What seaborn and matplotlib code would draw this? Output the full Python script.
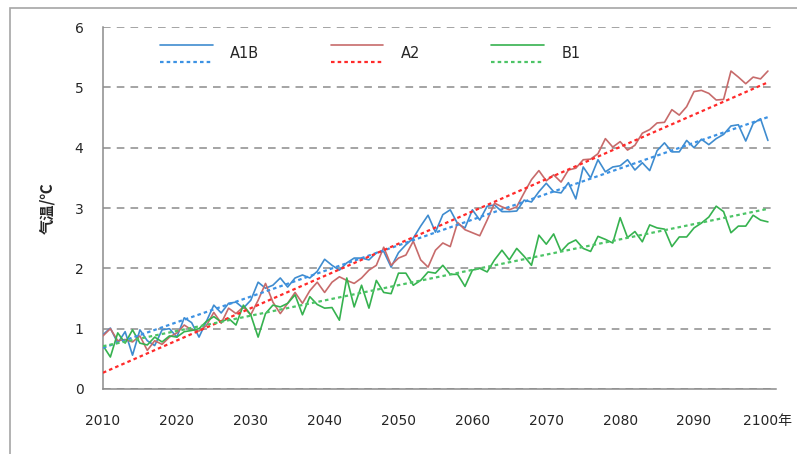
# A1B / A2 / B1 temperature scenarios with linear trend lines

import pandas as pd
import seaborn as sns
import matplotlib.pyplot as plt
from matplotlib.lines import Line2D
from matplotlib.legend_handler import HandlerBase
from matplotlib.patches import Rectangle

# data
years = list(range(2010, 2101))
a1b = [0.90, 1.01, 0.76, 0.95, 0.56, 0.98, 0.80, 0.72, 0.98, 1.00,
       0.86, 1.18, 1.10, 0.86, 1.12, 1.39, 1.26, 1.42, 1.44, 1.34,
       1.47, 1.77, 1.67, 1.72, 1.84, 1.69, 1.84, 1.89, 1.84, 1.95,
       2.15, 2.05, 1.97, 2.09, 2.17, 2.17, 2.14, 2.26, 2.28, 2.02,
       2.26, 2.39, 2.50, 2.70, 2.88, 2.60, 2.89, 2.97, 2.74, 2.67,
       2.97, 2.80, 3.03, 3.05, 2.94, 2.94, 2.95, 3.13, 3.10, 3.27,
       3.41, 3.27, 3.25, 3.42, 3.15, 3.68, 3.50, 3.80, 3.60, 3.68,
       3.70, 3.80, 3.63, 3.75, 3.62, 3.95, 4.08, 3.93, 3.93, 4.12,
       4.00, 4.14, 4.05, 4.15, 4.22, 4.36, 4.38, 4.11, 4.40, 4.48,
       4.12]
a2 = [0.88, 1.00, 0.80, 0.82, 0.78, 0.88, 0.64, 0.80, 0.74, 0.86,
      0.93, 1.06, 0.98, 0.96, 1.05, 1.27, 1.09, 1.34, 1.25, 1.36,
      1.23, 1.47, 1.75, 1.44, 1.25, 1.42, 1.60, 1.42, 1.63, 1.77,
      1.60, 1.77, 1.86, 1.80, 1.75, 1.84, 1.97, 2.05, 2.35, 2.05,
      2.17, 2.22, 2.45, 2.14, 2.02, 2.30, 2.42, 2.36, 2.76, 2.64,
      2.59, 2.54, 2.80, 3.08, 3.02, 2.97, 3.02, 3.25, 3.47, 3.62,
      3.45, 3.55, 3.43, 3.63, 3.66, 3.80, 3.81, 3.90, 4.15, 4.01,
      4.10, 3.96, 4.04, 4.24, 4.30, 4.41, 4.42, 4.63, 4.54, 4.68,
      4.93, 4.95, 4.90, 4.79, 4.80, 5.27, 5.17, 5.06, 5.17, 5.14,
      5.27]
b1 = [0.72, 0.53, 0.93, 0.76, 0.98, 0.76, 0.73, 0.86, 0.78, 0.88,
      0.86, 0.95, 0.97, 1.00, 1.12, 1.20, 1.11, 1.17, 1.06, 1.39,
      1.23, 0.86, 1.25, 1.39, 1.36, 1.42, 1.56, 1.23, 1.53, 1.40,
      1.34, 1.35, 1.14, 1.84, 1.36, 1.72, 1.34, 1.80, 1.60, 1.58,
      1.92, 1.92, 1.72, 1.80, 1.94, 1.92, 2.05, 1.90, 1.90, 1.70,
      1.97, 2.00, 1.94, 2.14, 2.30, 2.14, 2.33, 2.20, 2.05, 2.55,
      2.40, 2.57, 2.28, 2.41, 2.47, 2.33, 2.28, 2.53, 2.48, 2.42,
      2.84, 2.51, 2.61, 2.44, 2.72, 2.67, 2.65, 2.36, 2.52, 2.52,
      2.67, 2.75, 2.85, 3.03, 2.94, 2.59, 2.70, 2.70, 2.88, 2.80,
      2.77]
scenarios = ["A1B", "A2", "B1"]
xticks = list(range(2010, 2101, 10))
xtick_labels = [str(y) for y in xticks[:-1]] + ["2100年"]
yticks = list(range(0, 7))

line_colors = ["#3f8ccf", "#c76b6b", "#36b24f"]
trend_colors = ["#3d92e3", "#ff2a2a", "#4cc466"]
dotted = (0, (1.6, 1.4))

df = pd.DataFrame({
    "year": years * 3,
    "temp": a1b + a2 + b1,
    "scenario": [s for s in scenarios for _ in years],
})

sns.set_style("white")
plt.rcParams["font.family"] = ["DejaVu Sans", "Noto Sans CJK SC"]


class StackedHandler(HandlerBase):
    # solid line on top, dotted trend line underneath
    def create_artists(self, legend, orig_handle, xdescent, ydescent,
                       width, height, fontsize, trans):
        arts = []
        for h, frac in zip(orig_handle, (0.88, 0.12)):
            y = frac * height - ydescent
            ln = Line2D([-xdescent, width - xdescent], [y, y])
            ln.update_from(h)
            ln.set_transform(trans)
            arts.append(ln)
        return arts


fig = plt.figure(figsize=(7.97, 4.54), dpi=100)
ax = fig.add_axes([0.1292, 0.1432, 0.8445, 0.7973])

sns.lineplot(data=df, x="year", y="temp", hue="scenario",
             palette=dict(zip(scenarios, line_colors)), linewidth=1.2,
             legend=False, ax=ax, zorder=3)

for s, c in zip(scenarios, trend_colors):
    sub = df[df["scenario"] == s]
    sns.regplot(data=sub, x="year", y="temp", scatter=False, ci=None, ax=ax,
                line_kws=dict(color=c, linewidth=1.6, linestyle=dotted, zorder=4))

ax.set_xlim(2010, 2101.1)
ax.set_ylim(0, 6)
ax.set_xticks(xticks)
ax.set_xticklabels(xtick_labels)
ax.set_xticks(list(range(2015, 2100, 10)), minor=True)
ax.set_yticks(yticks)
ax.tick_params(axis="x", which="both", direction="out", length=6, width=1,
               color="#8c8c8c", pad=12, labelsize=10)
ax.tick_params(axis="y", direction="out", length=6, width=1,
               color="#8c8c8c", pad=8, labelsize=10)
ax.yaxis.grid(True, linestyle=(0, (5, 4)), color="#8c8c8c", linewidth=1.1)
ax.xaxis.grid(False)
for side in ("top", "right"):
    ax.spines[side].set_visible(False)
for side in ("left", "bottom"):
    ax.spines[side].set_color("#8c8c8c")
    ax.spines[side].set_linewidth(1.1)
ax.set_xlabel("")
ax.set_ylabel("气温/℃", fontsize=11, fontweight="bold",
              family=["Noto Sans CJK SC", "DejaVu Sans"], labelpad=14)

# legend: solid series line over dotted trend line
handles = []
for c, tc in zip(line_colors, trend_colors):
    handles.append((Line2D([], [], color=c, linewidth=1.2),
                    Line2D([], [], color=tc, linewidth=1.6, linestyle=dotted)))
fig.legend(handles=handles, labels=scenarios,
           handler_map={tuple: StackedHandler()},
           loc="upper left", bbox_to_anchor=(160 / 797, 1 - 42 / 454),
           ncol=3, frameon=False, fontsize=10.5, handlelength=3.6,
           handleheight=2.0, handletextpad=1.2, columnspacing=4.9,
           borderpad=0, borderaxespad=0)

# chart border as in the original
fig.add_artist(Rectangle((10 / 797, -0.1), 2, 1.1 - 8 / 454,
                         transform=fig.transFigure, fill=False,
                         edgecolor="#a6a6a6", linewidth=1.2))

fig.savefig("out.png", dpi=100)
